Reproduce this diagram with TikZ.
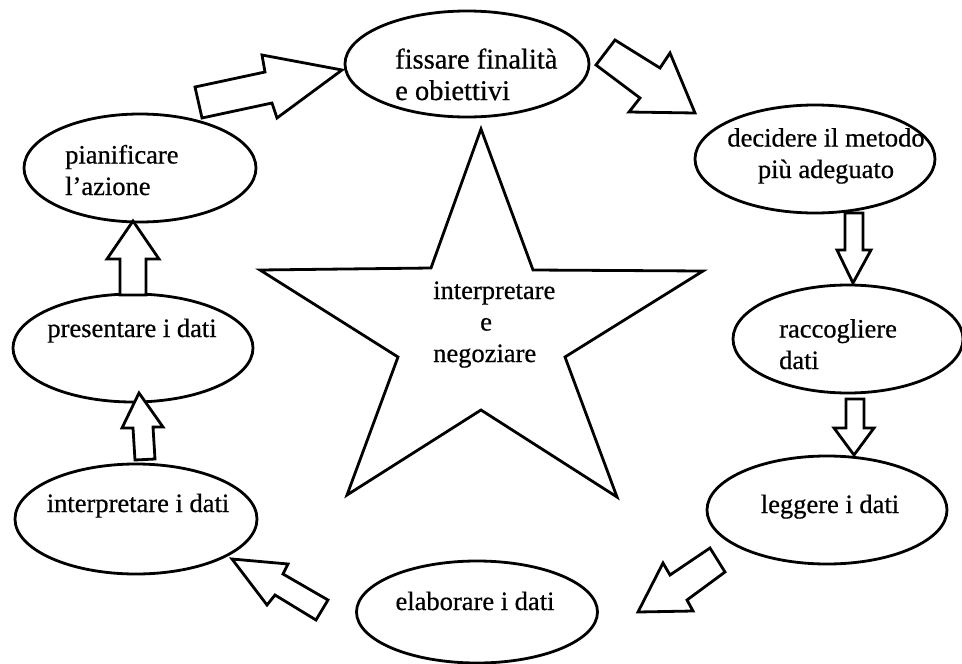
\documentclass[tikz,border=0pt]{standalone}
\usepackage{fontspec}
\setmainfont{Liberation Serif}[FakeBold=0.6]
\usetikzlibrary{shapes.geometric}
\begin{document}
\begin{tikzpicture}[x=1pt,y=-1pt,
  ell/.style={ellipse,draw,line width=2.8pt,inner sep=0pt},
  txt/.style={inner sep=0pt,font=\fontsize{26.5}{31.5}\selectfont},
  bigtxt/.style={inner sep=0pt,font=\fontsize{28.5}{31.5}\selectfont},
  blockarrow/.style={draw,line width=2.8pt,line join=miter,fill=white}]
\useasboundingbox (0,0) rectangle (962,664);
% ellipses
\node[ell,minimum width=244pt,minimum height=106pt] (fiss) at (467,64) {};
\node[ell,minimum width=240pt,minimum height=108pt] (decid) at (815,159) {};
\node[ell,minimum width=230pt,minimum height=108pt] (racc) at (848,339) {};
\node[ell,minimum width=240pt,minimum height=108pt] (legg) at (827,510) {};
\node[ell,minimum width=241pt,minimum height=102pt] (elab) at (477,612) {};
\node[ell,minimum width=242pt,minimum height=110pt] (interp) at (136,519) {};
\node[ell,minimum width=240pt,minimum height=108pt] (pres) at (133,348) {};
\node[ell,minimum width=232pt,minimum height=108pt] (pian) at (140,168) {};
% texts (multi-line nodes: base anchor = last line baseline)
\node[bigtxt,anchor=base west,align=left] (fiss-t) at (395,100) {fissare finalità\\e obiettivi};
\node[txt,anchor=base,align=center] (decid-t) at (826,178) {decidere il metodo\\più adeguato};
\node[txt,anchor=base west,align=left] (racc-t) at (779,369) {raccogliere\\dati};
\node[txt,anchor=base] (legg-t) at (830,513) {leggere i dati};
\node[txt,anchor=base] (elab-t) at (475,610) {elaborare i dati};
\node[txt,anchor=base] (interp-t) at (138,512) {interpretare i dati};
\node[txt,anchor=base] (pres-t) at (132,337) {presentare i dati};
\node[txt,anchor=base west,align=left] (pian-t) at (65,195) {pianificare\\l’azione};
% star
\draw[line width=2.8pt,line join=miter] (481,129) -- (533,270) -- (703,271) -- (565,357) -- (617,497)
  -- (481,410) -- (347,495) -- (398,357) -- (260,270) -- (431,268) -- cycle;
\node[txt,anchor=base west,align=left] (star-t) at (433,362) {interpretare\\\hspace{47pt}e\\negoziare};
% block arrows
\draw[blockarrow] (202,118) -- (195,87) -- (265,72) -- (262,55) -- (342,70) -- (277,118) -- (272,103) -- cycle;
\draw[blockarrow] (615,40) -- (596,65) -- (640,98) -- (629,112) -- (695,113) -- (670,53) -- (660,68) -- cycle;
\draw[blockarrow] (845,213) -- (863,213) -- (863,250) -- (871,250) -- (853,283) -- (837,250) -- (845,250) -- cycle;
\draw[blockarrow] (846,399) -- (864,399) -- (864,428) -- (874,428) -- (854,455) -- (834,428) -- (846,428) -- cycle;
\draw[blockarrow] (710,548) -- (725,572) -- (687,600) -- (693,611) -- (638,612) -- (663,563) -- (670,575) -- cycle;
\draw[blockarrow] (328,600) -- (316,620) -- (275,595) -- (267,605) -- (232,559) -- (288,564) -- (283,574) -- cycle;
\draw[blockarrow] (135,460) -- (155,459) -- (153,427) -- (163,427) -- (139,393) -- (122,428) -- (133,428) -- cycle;
\draw[blockarrow] (120,295) -- (146,295) -- (146,259) -- (159,259) -- (133,221) -- (107,259) -- (120,259) -- cycle;
\end{tikzpicture}
\end{document}
